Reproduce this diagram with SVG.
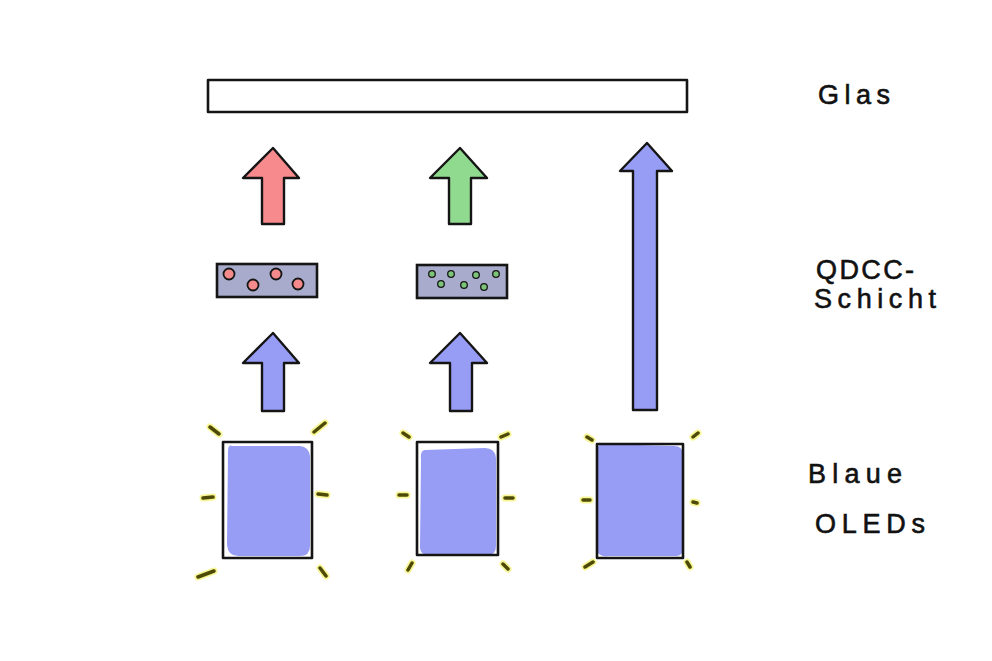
<svg xmlns="http://www.w3.org/2000/svg" width="992" height="661" viewBox="0 0 992 661">
<style>
.ol{fill:none;stroke:#151515;stroke-width:2.6;stroke-linejoin:round}
.arr{stroke:#151515;stroke-width:2.4;stroke-linejoin:round}
.red{fill:#f68a8c}
.grn{fill:#90da90}
.blu{fill:#979cf5}
.qd{fill:#a9abcd;stroke:#151515;stroke-width:2.6}
.blob{fill:#979cf5}
.glow{stroke:#f5f27a;stroke-width:7;stroke-linecap:round;fill:none;opacity:0.8}
.ray{stroke:#4d4a08;stroke-width:3.5;stroke-linecap:round;fill:none}
.dr{fill:#f58a8c;stroke:#151515;stroke-width:1.8}
.dg{fill:#7bc47a;stroke:#151515;stroke-width:1.3}
.lbl{font-family:"Liberation Sans",Arial,sans-serif;font-size:27px;fill:#111;stroke:#111;stroke-width:0.6}
</style>
<rect width="992" height="661" fill="#ffffff"/>

<g id="glas">
<rect class="ol" x="208" y="80" width="479" height="32"/>
</g>

<g id="qdcc-red">
<rect class="qd" x="217" y="264" width="100" height="33"/>
<circle class="dr" cx="229" cy="274" r="5.5"/>
<circle class="dr" cx="253" cy="285" r="5.5"/>
<circle class="dr" cx="276" cy="274" r="5.5"/>
<circle class="dr" cx="298" cy="284" r="5.5"/>
</g>

<g id="qdcc-green">
<rect class="qd" x="417" y="265" width="90" height="33"/>
<circle class="dg" cx="432" cy="274" r="3.3"/>
<circle class="dg" cx="441" cy="284" r="3.3"/>
<circle class="dg" cx="451" cy="274" r="3.3"/>
<circle class="dg" cx="464" cy="285" r="3.3"/>
<circle class="dg" cx="476" cy="275" r="3.3"/>
<circle class="dg" cx="484" cy="287" r="3.3"/>
<circle class="dg" cx="496" cy="274" r="3.3"/>
</g>

<g id="oled1">
<path class="blob" d="M232 446 Q228 444 228 452 L227 545 Q228 556 238 556 L300 556 Q310 556 310 546 L310 456 Q309 447 300 446 Z"/>
<rect class="ol" x="223" y="442" width="89" height="116"/>
<path class="glow" d="M210 427 L219 434 M314 432 L325 423 M203 498 L213 497 M318 494 L327 495 M198 577 L214 571 M320 568 L326 576"/>
<path class="ray" d="M210 427 L219 434 M314 432 L325 423 M203 498 L213 497 M318 494 L327 495 M198 577 L214 571 M320 568 L326 576"/>
</g>

<g id="oled2">
<path class="blob" d="M425 450 Q420 450 421 460 L420 548 Q421 556 430 555 L488 555 Q496 555 496 546 L496 458 Q495 448 485 448 Z"/>
<rect class="ol" x="417" y="442" width="81" height="113"/>
<path class="glow" d="M403 433 L409 437 M501 437 L508 434 M399 495 L407 495 M505 498 L513 498 M408 570 L412 563 M503 564 L508 569"/>
<path class="ray" d="M403 433 L409 437 M501 437 L508 434 M399 495 L407 495 M505 498 L513 498 M408 570 L412 563 M503 564 L508 569"/>
</g>

<g id="oled3">
<path class="blob" d="M600 444 Q597 446 597 455 L597 550 Q598 557 608 556 L676 556 Q683 556 683 548 L683 455 Q683 446 674 446 Z"/>
<rect class="ol" x="597" y="444" width="86" height="114"/>
<path class="glow" d="M587 437 L592 440 M693 437 L698 433 M583 500 L590 500 M693 502 L697 503 M585 567 L593 562 M687 562 L690 567"/>
<path class="ray" d="M587 437 L592 440 M693 437 L698 433 M583 500 L590 500 M693 502 L697 503 M585 567 L593 562 M687 562 L690 567"/>
</g>

<g id="connectors">
<polygon class="arr blu" points="273,333 243,363 262,363 262,411 284,411 284,363 299,363"/>
<polygon class="arr blu" points="460,333 430,363 450,363 450,411 472,411 472,363 487,363"/>
<polygon class="arr red" points="273,148 243,178 262,178 262,224 284,224 284,178 299,178"/>
<polygon class="arr grn" points="460,148 430,178 449,178 449,224 471,224 471,178 487,178"/>
<polygon class="arr blu" points="647,143 620,171 633,171 633,410 657,410 657,171 672,171"/>
</g>

<g id="labels">
<text class="lbl" x="818" y="104" textLength="72" lengthAdjust="spacing">Glas</text>
<text class="lbl" x="816" y="279" textLength="98" lengthAdjust="spacing">QDCC-</text>
<text class="lbl" x="814" y="308" textLength="122" lengthAdjust="spacing">Schicht</text>
<text class="lbl" x="808" y="483" textLength="94" lengthAdjust="spacing">Blaue</text>
<text class="lbl" x="815" y="533" textLength="110" lengthAdjust="spacing">OLEDs</text>
</g>
</svg>
